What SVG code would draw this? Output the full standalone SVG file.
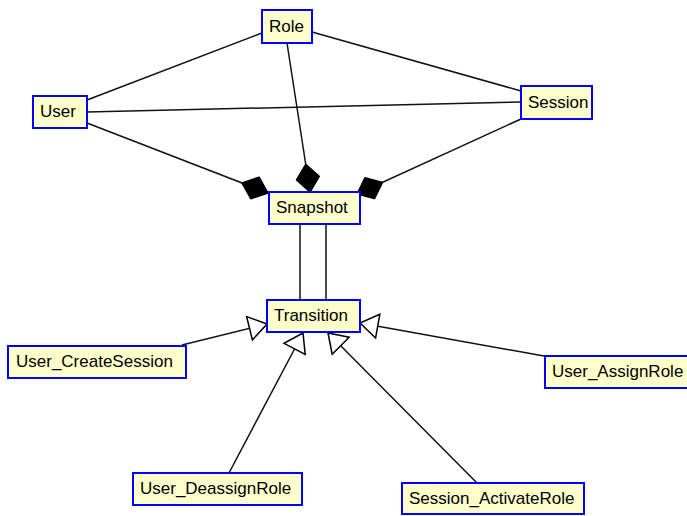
<svg xmlns="http://www.w3.org/2000/svg" width="687" height="516" viewBox="0 0 687 516">
  <style>
    .box { fill: #ffffcc; stroke: #0000ff; stroke-width: 2; }
    .lbl { font-family: "Liberation Sans", Arial, sans-serif; font-size: 17px; fill: #000; }
    .edge { stroke: #111; stroke-width: 1.5; fill: none; }
    .comp { marker-end: url(#diamond); }
    .gen { marker-end: url(#hollowTri); }
  </style>
  <defs>
    <!-- filled diamond: composition end -->
    <marker id="diamond" markerUnits="userSpaceOnUse" orient="auto" viewBox="-30 -14 32 28" markerWidth="32" markerHeight="28" refX="0" refY="0">
      <path d="M0,0 L-14,-11.5 L-28,0 L-14,11.5 Z" fill="#000" stroke="#000" stroke-width="1.5" stroke-linejoin="round"/>
    </marker>
    <!-- hollow triangle: generalization end -->
    <marker id="hollowTri" markerUnits="userSpaceOnUse" orient="auto" viewBox="-20 -14 22 28" markerWidth="22" markerHeight="28" refX="0" refY="0">
      <path d="M0,0 L-18,-12 L-18,12 Z" fill="#fff" stroke="#000" stroke-width="1.5"/>
    </marker>
  </defs>

  <g id="connectors">
    <line class="edge" x1="87" y1="100" x2="262" y2="33"/>
    <line class="edge" x1="312" y1="32" x2="521" y2="91"/>
    <line class="edge" x1="87" y1="112" x2="521" y2="102"/>
    <line class="edge comp" x1="87" y1="123" x2="268" y2="193"/>
    <line class="edge comp" x1="287" y1="43" x2="310" y2="192"/>
    <line class="edge comp" x1="521" y1="119" x2="357" y2="194"/>
    <line class="edge" x1="300" y1="224" x2="300" y2="300"/>
    <line class="edge" x1="326" y1="224" x2="326" y2="300"/>
    <line class="edge gen" x1="182" y1="345" x2="267" y2="324"/>
    <line class="edge gen" x1="229" y1="473" x2="303" y2="333"/>
    <line class="edge gen" x1="477" y1="483" x2="328" y2="333"/>
    <line class="edge gen" x1="544" y1="356" x2="360" y2="323"/>
  </g>

  <g id="role">
    <rect class="box" x="262" y="10" width="50" height="33"/>
    <text class="lbl" x="269" y="32">Role</text>
  </g>
  <g id="user">
    <rect class="box" x="33" y="96" width="54" height="32"/>
    <text class="lbl" x="40" y="117">User</text>
  </g>
  <g id="session">
    <rect class="box" x="521" y="86" width="71" height="33"/>
    <text class="lbl" x="528" y="108">Session</text>
  </g>
  <g id="snapshot">
    <rect class="box" x="269" y="192" width="91" height="32"/>
    <text class="lbl" x="276" y="213">Snapshot</text>
  </g>
  <g id="transition">
    <rect class="box" x="267" y="300" width="93" height="32"/>
    <text class="lbl" x="274" y="321">Transition</text>
  </g>
  <g id="user_createsession">
    <rect class="box" x="8" y="346" width="178" height="32"/>
    <text class="lbl" x="16" y="367">User_CreateSession</text>
  </g>
  <g id="user_assignrole">
    <rect class="box" x="545" y="356" width="150" height="32"/>
    <text class="lbl" x="552" y="377">User_AssignRole</text>
  </g>
  <g id="user_deassignrole">
    <rect class="box" x="133" y="473" width="169" height="32"/>
    <text class="lbl" x="140" y="494">User_DeassignRole</text>
  </g>
  <g id="session_activaterole">
    <rect class="box" x="402" y="483" width="182" height="31"/>
    <text class="lbl" x="409" y="504">Session_ActivateRole</text>
  </g>
</svg>
